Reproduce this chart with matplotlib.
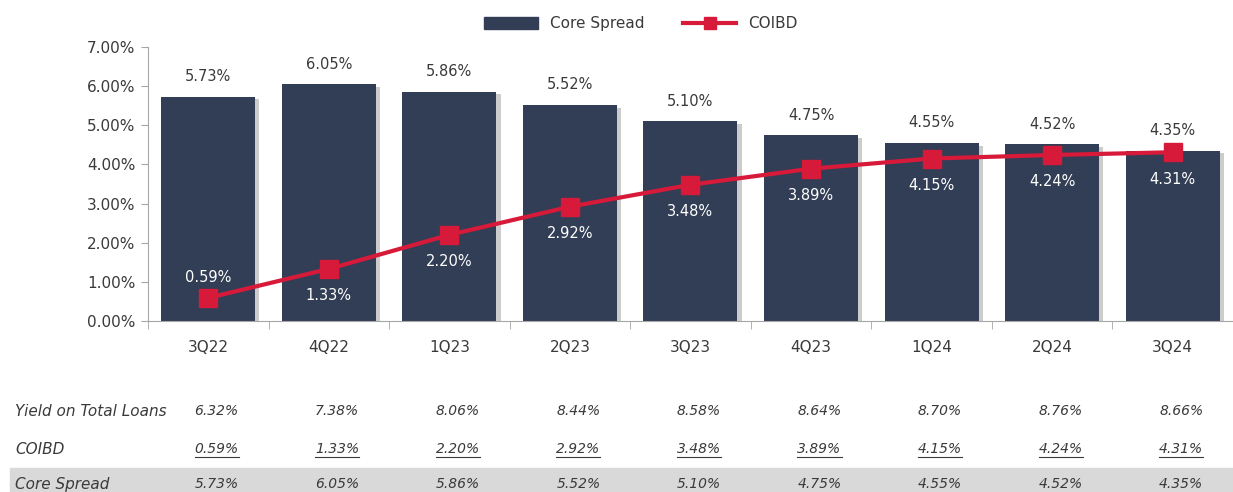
import matplotlib
matplotlib.use("Agg")
import matplotlib.pyplot as plt
import matplotlib.patheffects as pe
from matplotlib.patches import Rectangle, Patch
from matplotlib.lines import Line2D
from matplotlib.transforms import blended_transform_factory

plt.rcParams['font.family'] = 'DejaVu Sans'

# data
quarters = ["3Q22", "4Q22", "1Q23", "2Q23", "3Q23", "4Q23", "1Q24", "2Q24", "3Q24"]
core_spread = [5.73, 6.05, 5.86, 5.52, 5.10, 4.75, 4.55, 4.52, 4.35]
coibd = [0.59, 1.33, 2.20, 2.92, 3.48, 3.89, 4.15, 4.24, 4.31]
yield_loans = [6.32, 7.38, 8.06, 8.44, 8.58, 8.64, 8.70, 8.76, 8.66]

bar_col = "#323E55"
line_col = "#D7193A"
txt_col = "#3A3A3A"
axis_col = "#A6A6A6"

fig = plt.figure(figsize=(12.33, 4.92), dpi=100)
ax = fig.add_axes([0.12, 0.3476, 0.88, 0.557])

x = list(range(len(quarters)))
ax.bar(x, core_spread, width=0.78, color=bar_col, zorder=2,
       path_effects=[pe.SimplePatchShadow(offset=(3, -2), shadow_rgbFace="#9A9A9A", alpha=0.5),
                     pe.Normal()])
ax.plot(x, coibd, color=line_col, lw=3, marker="s", markersize=13, zorder=3)

for i, v in enumerate(core_spread):
    ax.annotate(f"{v:.2f}%", (i, v), xytext=(0, 9), textcoords="offset points",
                ha="center", va="bottom", fontsize=10.5, color=txt_col)
for i, v in enumerate(coibd):
    if i == 0:
        ax.annotate(f"{v:.2f}%", (i, v), xytext=(0, 9), textcoords="offset points",
                    ha="center", va="bottom", fontsize=10.5, color="white", zorder=4)
    else:
        ax.annotate(f"{v:.2f}%", (i, v), xytext=(0, -14), textcoords="offset points",
                    ha="center", va="top", fontsize=10.5, color="white", zorder=4)

ax.set_ylim(0, 7)
ax.set_xlim(-0.5, 8.42)
ax.set_yticks([0, 1, 2, 3, 4, 5, 6, 7])
ax.set_yticklabels([f"{t:.2f}%" for t in range(8)], fontsize=11, color=txt_col)
ax.set_xticks(x)
ax.set_xticklabels(quarters, fontsize=11, color=txt_col)
ax.set_xticks([i + 0.5 for i in range(-1, 9)], minor=True)
ax.tick_params(axis="x", which="major", length=0, pad=14)
ax.tick_params(axis="x", which="minor", length=6, color=axis_col)
ax.tick_params(axis="y", length=5, color=axis_col, pad=4)
for s in ["top", "right"]:
    ax.spines[s].set_visible(False)
for s in ["left", "bottom"]:
    ax.spines[s].set_color(axis_col)

handles = [Patch(color=bar_col, label="Core Spread"),
           Line2D([], [], color=line_col, lw=3, marker="s", markersize=8, label="COIBD")]
fig.legend(handles=handles, loc="upper center", bbox_to_anchor=(0.52, 0.995), ncol=2,
           frameon=False, fontsize=11, handlelength=3.5, handleheight=0.8,
           columnspacing=2.5, labelcolor=txt_col)

# table underneath
fig.patches.append(Rectangle((10 / 1233, 0), 1, 24 / 492, transform=fig.transFigure,
                             color="#D9D9D9", zorder=-10))
tr = blended_transform_factory(ax.transData, fig.transFigure)
rows = [("Yield on Total Loans", yield_loans, 1 - 411 / 492, False),
        ("COIBD", coibd, 1 - 449 / 492, True),
        ("Core Spread", core_spread, 1 - 484 / 492, False)]
underlined = []
for name, vals, yy, under in rows:
    fig.text(15 / 1233, yy, name, style="italic", fontsize=11, color=txt_col, va="center")
    for i, v in enumerate(vals):
        t = ax.text(i + 0.07, yy, f"{v:.2f}%", transform=tr, style="italic", fontsize=10,
                    color=txt_col, ha="center", va="center", clip_on=False)
        if under:
            underlined.append(t)

fig.canvas.draw()
inv = fig.transFigure.inverted()
for t in underlined:
    bb = t.get_window_extent().transformed(inv)
    fig.lines.append(Line2D([bb.x0, bb.x1], [bb.y0 - 0.002, bb.y0 - 0.002],
                            transform=fig.transFigure, color=txt_col, lw=0.8))

fig.savefig("out.png", dpi=100)
